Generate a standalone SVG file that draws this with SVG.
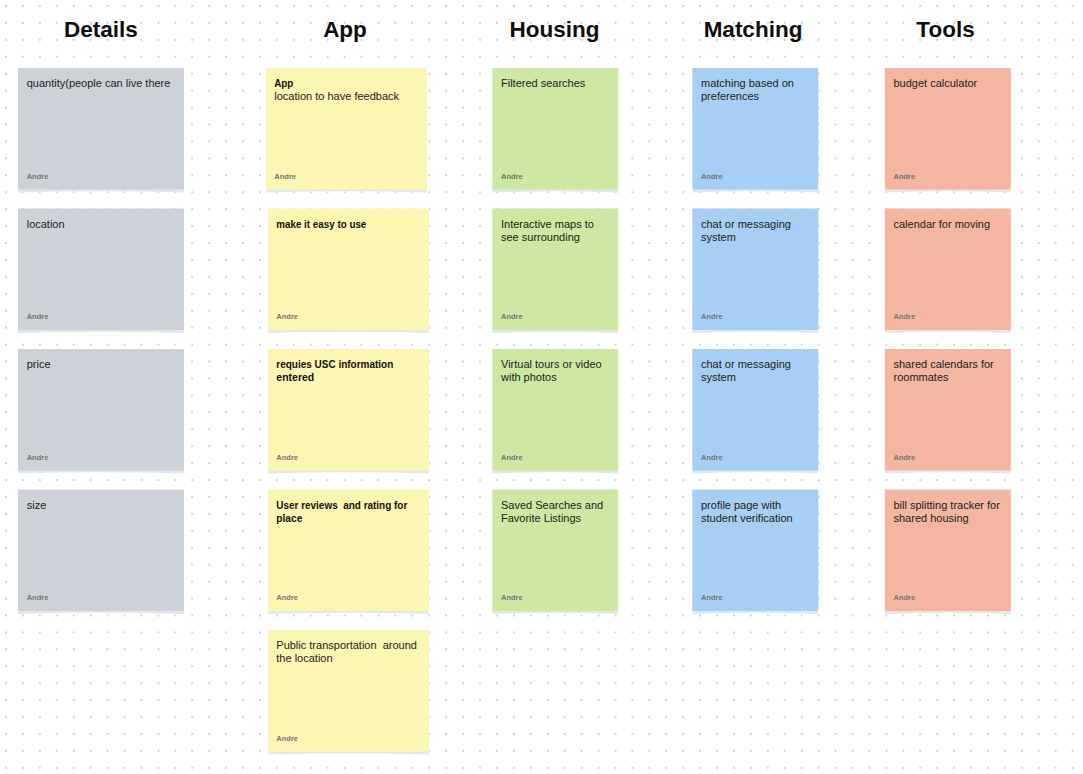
<svg xmlns="http://www.w3.org/2000/svg" xmlns:xlink="http://www.w3.org/1999/xlink" width="1083" height="774" viewBox="0 0 1083 774">
<style>
.h{font-family:"Liberation Sans",Arial,sans-serif;font-size:22.5px;font-weight:bold;fill:#0d0d0d;text-anchor:middle}
.t{font-family:"Liberation Sans",Arial,sans-serif;font-size:11px;fill:#222}
.b{font-weight:bold;fill:#111}
.a{font-family:"Liberation Sans",Arial,sans-serif;font-size:7.5px;font-weight:bold;fill:#747474}
.gray{fill:#cdd2d9}
.yel{fill:#fcf6b3}
.grn{fill:#cce8a4}
.blu{fill:#a6cff3}
.sal{fill:#f4b6a0}
.sh{fill:#e3e6ea}
.pre{white-space:pre}
</style>
<defs>
<pattern id="dots" x="6" y="6" width="16.93" height="16.93" patternUnits="userSpaceOnUse">
<rect x="-1" y="-1" width="2" height="2" fill="#d2d3d9"/>
<rect x="15.93" y="-1" width="2" height="2" fill="#d2d3d9"/>
<rect x="-1" y="15.93" width="2" height="2" fill="#d2d3d9"/>
<rect x="15.93" y="15.93" width="2" height="2" fill="#d2d3d9"/>
</pattern>
<path id="sh166" d="M1,119 L165,119 L166,124.5 Q83,122 0,124.5 Z"/>
<path id="sh161" d="M1,119 L160,119 L161,124.5 Q80.5,122 0,124.5 Z"/>
<path id="sh126" d="M1,119 L125,119 L126,124.5 Q63,122 0,124.5 Z"/>
</defs>
<rect width="1083" height="774" fill="#ffffff"/>
<rect width="1083" height="774" fill="url(#dots)"/>

<g id="headers">
<text class="h" x="101" y="37">Details</text>
<text class="h" x="345" y="37">App</text>
<text class="h" x="554.5" y="37">Housing</text>
<text class="h" x="753" y="37">Matching</text>
<text class="h" x="945.5" y="37">Tools</text>
</g>

<g id="connectors"></g>

<!-- Details -->
<g id="details-1" transform="translate(18,68)"><use href="#sh166" class="sh"/><rect class="gray" width="166" height="121.5"/><text class="t" x="8.7" y="19">quantity(people can live there</text><text class="a" x="8.7" y="110.5">Andre</text></g>
<g id="details-2" transform="translate(18,208.5)"><use href="#sh166" class="sh"/><rect class="gray" width="166" height="121.5"/><text class="t" x="8.7" y="19">location</text><text class="a" x="8.7" y="110.5">Andre</text></g>
<g id="details-3" transform="translate(18,349)"><use href="#sh166" class="sh"/><rect class="gray" width="166" height="121.5"/><text class="t" x="8.7" y="19">price</text><text class="a" x="8.7" y="110.5">Andre</text></g>
<g id="details-4" transform="translate(18,489.5)"><use href="#sh166" class="sh"/><rect class="gray" width="166" height="121.5"/><text class="t" x="8.7" y="19">size</text><text class="a" x="8.7" y="110.5">Andre</text></g>

<!-- App -->
<g id="app-1" transform="translate(266,68)"><use href="#sh161" class="sh"/><rect class="yel" width="161" height="121.5"/><text class="t b" x="8.3" y="19" textLength="19" lengthAdjust="spacingAndGlyphs">App</text><text class="t" x="8.3" y="32">location to have feedback</text><text class="a" x="8.3" y="110.5">Andre</text></g>
<g id="app-2" transform="translate(268,208.5)"><use href="#sh161" class="sh"/><rect class="yel" width="161" height="121.5"/><text class="t b" x="8.3" y="19" textLength="90" lengthAdjust="spacingAndGlyphs">make it easy to use</text><text class="a" x="8.3" y="110.5">Andre</text></g>
<g id="app-3" transform="translate(268,349)"><use href="#sh161" class="sh"/><rect class="yel" width="161" height="121.5"/><text class="t b" x="8.3" y="19" textLength="117" lengthAdjust="spacingAndGlyphs">requies USC information</text><text class="t b" x="8.3" y="32" textLength="38" lengthAdjust="spacingAndGlyphs">entered</text><text class="a" x="8.3" y="110.5">Andre</text></g>
<g id="app-4" transform="translate(268,489.5)"><use href="#sh161" class="sh"/><rect class="yel" width="161" height="121.5"/><text class="t b pre" x="8.3" y="19" textLength="131" lengthAdjust="spacingAndGlyphs">User reviews  and rating for</text><text class="t b" x="8.3" y="32" textLength="26" lengthAdjust="spacingAndGlyphs">place</text><text class="a" x="8.3" y="110.5">Andre</text></g>
<g id="app-5" transform="translate(268,630)"><use href="#sh161" class="sh"/><rect class="yel" width="161" height="121.5"/><text class="t pre" x="8.3" y="19">Public transportation  around</text><text class="t" x="8.3" y="32">the location</text><text class="a" x="8.3" y="110.5">Andre</text></g>

<!-- Housing -->
<g id="housing-1" transform="translate(492.3,68)"><use href="#sh126" class="sh"/><rect class="grn" width="126" height="121.5"/><text class="t" x="8.7" y="19">Filtered searches</text><text class="a" x="8.7" y="110.5">Andre</text></g>
<g id="housing-2" transform="translate(492.3,208.5)"><use href="#sh126" class="sh"/><rect class="grn" width="126" height="121.5"/><text class="t" x="8.7" y="19">Interactive maps to</text><text class="t" x="8.7" y="32">see surrounding</text><text class="a" x="8.7" y="110.5">Andre</text></g>
<g id="housing-3" transform="translate(492.3,349)"><use href="#sh126" class="sh"/><rect class="grn" width="126" height="121.5"/><text class="t" x="8.7" y="19">Virtual tours or video</text><text class="t" x="8.7" y="32">with photos</text><text class="a" x="8.7" y="110.5">Andre</text></g>
<g id="housing-4" transform="translate(492.3,489.5)"><use href="#sh126" class="sh"/><rect class="grn" width="126" height="121.5"/><text class="t" x="8.7" y="19">Saved Searches and</text><text class="t" x="8.7" y="32">Favorite Listings</text><text class="a" x="8.7" y="110.5">Andre</text></g>

<!-- Matching -->
<g id="matching-1" transform="translate(692.3,68)"><use href="#sh126" class="sh"/><rect class="blu" width="126" height="121.5"/><text class="t" x="8.7" y="19">matching based on</text><text class="t" x="8.7" y="32">preferences</text><text class="a" x="8.7" y="110.5">Andre</text></g>
<g id="matching-2" transform="translate(692.3,208.5)"><use href="#sh126" class="sh"/><rect class="blu" width="126" height="121.5"/><text class="t" x="8.7" y="19">chat or messaging</text><text class="t" x="8.7" y="32">system</text><text class="a" x="8.7" y="110.5">Andre</text></g>
<g id="matching-3" transform="translate(692.3,349)"><use href="#sh126" class="sh"/><rect class="blu" width="126" height="121.5"/><text class="t" x="8.7" y="19">chat or messaging</text><text class="t" x="8.7" y="32">system</text><text class="a" x="8.7" y="110.5">Andre</text></g>
<g id="matching-4" transform="translate(692.3,489.5)"><use href="#sh126" class="sh"/><rect class="blu" width="126" height="121.5"/><text class="t" x="8.7" y="19">profile page with</text><text class="t" x="8.7" y="32">student verification</text><text class="a" x="8.7" y="110.5">Andre</text></g>

<!-- Tools -->
<g id="tools-1" transform="translate(884.8,68)"><use href="#sh126" class="sh"/><rect class="sal" width="126" height="121.5"/><text class="t" x="8.7" y="19">budget calculator</text><text class="a" x="8.7" y="110.5">Andre</text></g>
<g id="tools-2" transform="translate(884.8,208.5)"><use href="#sh126" class="sh"/><rect class="sal" width="126" height="121.5"/><text class="t" x="8.7" y="19">calendar for moving</text><text class="a" x="8.7" y="110.5">Andre</text></g>
<g id="tools-3" transform="translate(884.8,349)"><use href="#sh126" class="sh"/><rect class="sal" width="126" height="121.5"/><text class="t" x="8.7" y="19">shared calendars for</text><text class="t" x="8.7" y="32">roommates</text><text class="a" x="8.7" y="110.5">Andre</text></g>
<g id="tools-4" transform="translate(884.8,489.5)"><use href="#sh126" class="sh"/><rect class="sal" width="126" height="121.5"/><text class="t" x="8.7" y="19">bill splitting tracker for</text><text class="t" x="8.7" y="32">shared housing</text><text class="a" x="8.7" y="110.5">Andre</text></g>
</svg>
